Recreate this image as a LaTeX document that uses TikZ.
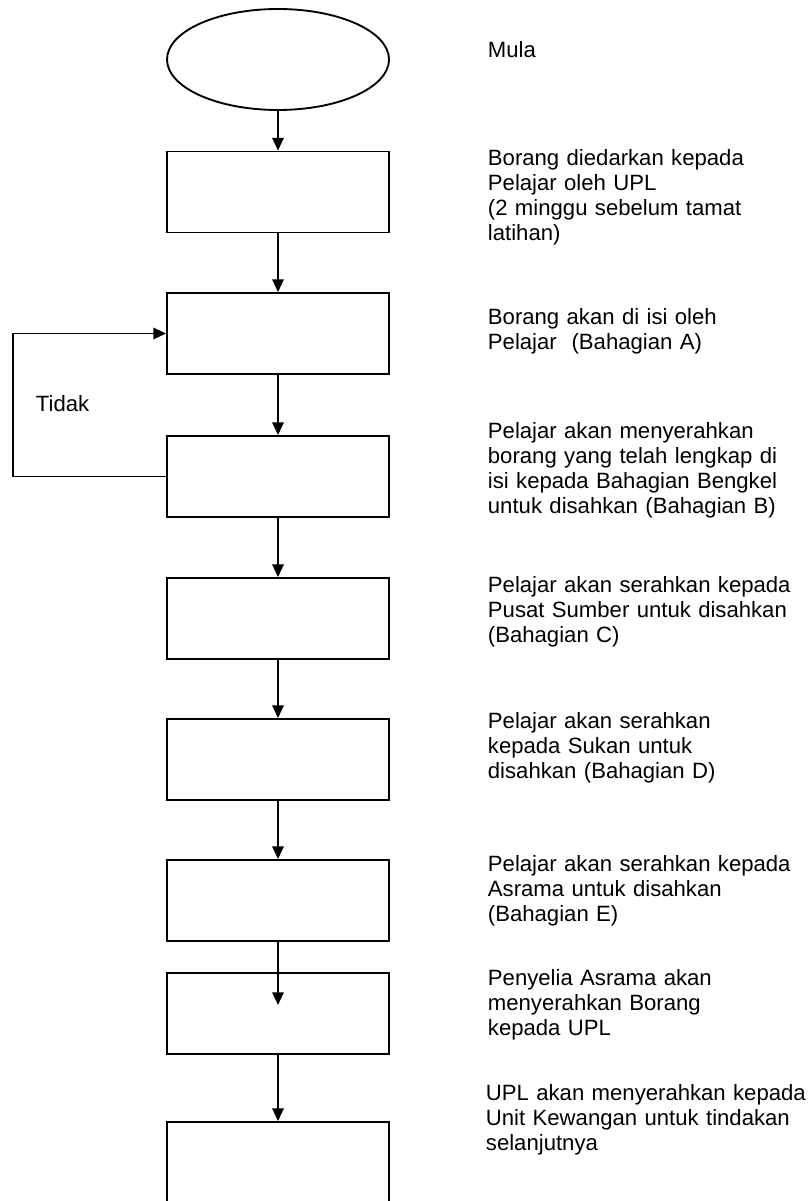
\documentclass[tikz,border=0pt]{standalone}
\usepackage{fontspec}
\setmainfont{Liberation Sans}
\usetikzlibrary{shapes.geometric,arrows.meta}
\begin{document}
\begin{tikzpicture}[x=0.75pt,y=-0.75pt,
  line width=1.4pt,
  stepbox/.style={draw,rectangle,minimum width=166.5pt,minimum height=60.75pt,inner sep=0pt},
  startshape/.style={draw,ellipse,minimum width=166.5pt,minimum height=75.75pt,inner sep=0pt},
  note/.style={anchor=base west,inner sep=0pt,text width=247.5pt,align=left,
    font=\fontsize{16.6pt}{18.75pt}\selectfont},
  flow/.style={-{Triangle[length=9.5pt,width=8.5pt]}}]
  \useasboundingbox (0,0) rectangle (809,1201);

  % start and process boxes
  \node[startshape] (start) at (278,59.5) {};
  \node[stepbox] (b1) at (278,192) {};
  \node[stepbox] (b2) at (278,333.5) {};
  \node[stepbox] (b3) at (278,476.5) {};
  \node[stepbox] (b4) at (278,618.5) {};
  \node[stepbox] (b5) at (278,759.5) {};
  \node[stepbox] (b6) at (278,900.5) {};
  \node[stepbox] (b7) at (278,1013.5) {};
  \node[stepbox] (b8) at (278,1162.5) {};

  % main flow
  \draw[flow] (start) -- (b1);
  \draw[flow] (b1) -- (b2);
  \draw[flow] (b2) -- (b3);
  \draw[flow] (b3) -- (b4);
  \draw[flow] (b4) -- (b5);
  \draw[flow] (b5) -- (b6);
  \coordinate (t7) at (278,1005);
  \draw[flow] (b6.south) -- (t7);
  \draw[flow] (b7) -- (b8);

  % return loop
  \coordinate (loopcorner) at (13,476.5);
  \draw[flow] (b3.west) -- (loopcorner) |- (b2.west);
  \node[note,text width=60pt] (tidak) at (35,411) {Tidak};

  % descriptions
  \node[note] (n0) at (487,58) {Mula};
  \node[note] (n1) at (487,166) {Borang diedarkan kepada\\Pelajar oleh UPL\\(2 minggu sebelum tamat\\latihan)};
  \node[note] (n2) at (487,325) {Borang akan di isi oleh\\Pelajar\ \ (Bahagian A)};
  \node[note] (n3) at (487,438) {Pelajar akan menyerahkan\\borang yang telah lengkap di\\isi kepada Bahagian Bengkel\\untuk disahkan (Bahagian B)};
  \node[note] (n4) at (487,592) {Pelajar akan serahkan kepada\\Pusat Sumber untuk disahkan\\(Bahagian C)};
  \node[note] (n5) at (487,728) {Pelajar akan serahkan\\kepada Sukan untuk\\disahkan (Bahagian D)};
  \node[note] (n6) at (487,871) {Pelajar akan serahkan kepada\\Asrama untuk disahkan\\(Bahagian E)};
  \node[note] (n7) at (487,985) {Penyelia Asrama akan\\menyerahkan Borang\\kepada UPL};
  \node[note] (n8) at (485,1100) {UPL akan menyerahkan kepada\\Unit Kewangan untuk tindakan\\selanjutnya};
\end{tikzpicture}
\end{document}
